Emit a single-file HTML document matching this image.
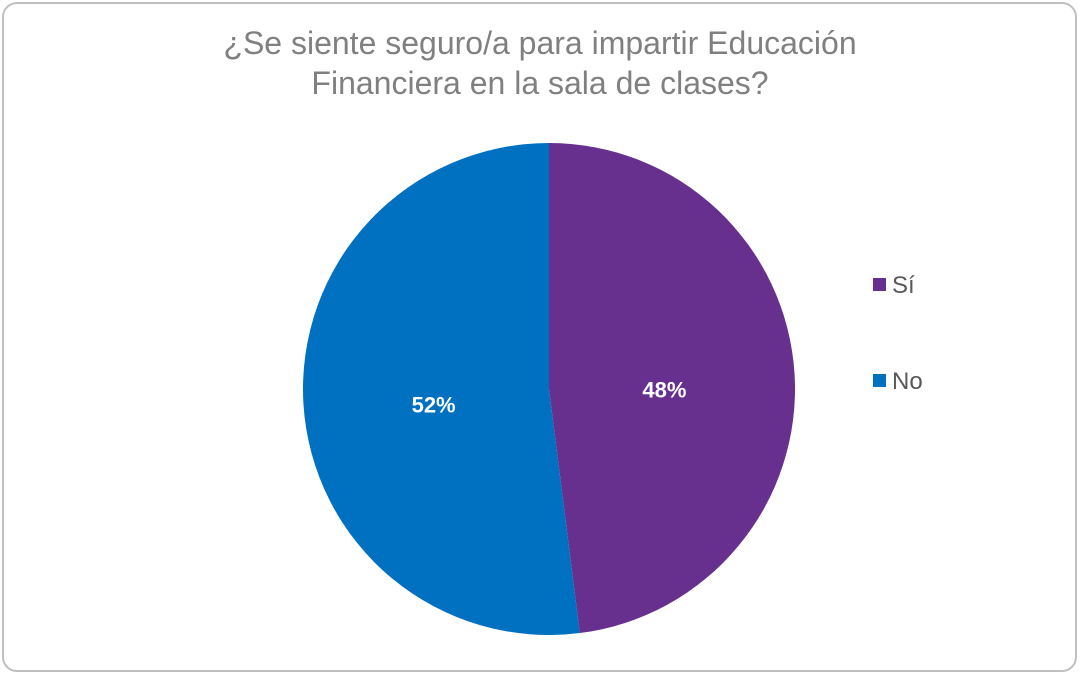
<!DOCTYPE html>
<html><head><meta charset="utf-8"><style>
body{margin:0;background:#fff;}
svg{display:block;font-family:"Liberation Sans",sans-serif;}
</style></head><body>
<svg width="1080" height="675" viewBox="0 0 1080 675">
<rect x="3" y="3" width="1073" height="668" rx="14" fill="#fff" stroke="#bfbfbf" stroke-width="2"/>
<text x="540" y="54" text-anchor="middle" font-size="32" fill="#808080">¿Se siente seguro/a para impartir Educación</text>
<text x="540" y="94" text-anchor="middle" font-size="32" fill="#808080">Financiera en la sala de clases?</text>
<g id="slices"></g>
<g>
<rect x="873" y="278" width="13" height="13" fill="#67308F"/>
<text x="892" y="293" font-size="24" fill="#595959">Sí</text>
<rect x="873" y="374" width="13" height="13" fill="#0070C0"/>
<text x="892" y="389" font-size="24" fill="#595959">No</text>
</g>
</svg>
<script>
const categories = ["Sí", "No"];
const values = [48, 52];
const labels = ["48%", "52%"];
const colors = ["#67308F", "#0070C0"];
const cx = 549, cy = 389, r = 246;
const g = document.getElementById('slices');
const ns = "http://www.w3.org/2000/svg";
const total = values.reduce((a, b) => a + b, 0);
function pt(a, rr) { return [cx + rr * Math.sin(a), cy - rr * Math.cos(a)]; }
let start = 0;
values.forEach((v, i) => {
  const sweep = v / total * 2 * Math.PI;
  const end = start + sweep;
  const [x1, y1] = pt(start, r), [x2, y2] = pt(end, r);
  const p = document.createElementNS(ns, 'path');
  p.setAttribute('d', `M${cx},${cy} L${x1},${y1} A${r},${r} 0 ${sweep > Math.PI ? 1 : 0} 1 ${x2},${y2} Z`);
  p.setAttribute('fill', colors[i]);
  
  
  g.appendChild(p);
  const mid = start + sweep / 2;
  const [lx, ly] = pt(mid, r * 0.47);
  const t = document.createElementNS(ns, 'text');
  t.setAttribute('x', lx);
  t.setAttribute('y', ly + 16);
  t.setAttribute('text-anchor', 'middle');
  t.setAttribute('font-size', '22');
  t.setAttribute('font-weight', 'bold');
  t.setAttribute('fill', '#fff');
  t.textContent = labels[i];
  
  
  g.appendChild(t);
  start = end;
});
</script>
</body></html>
